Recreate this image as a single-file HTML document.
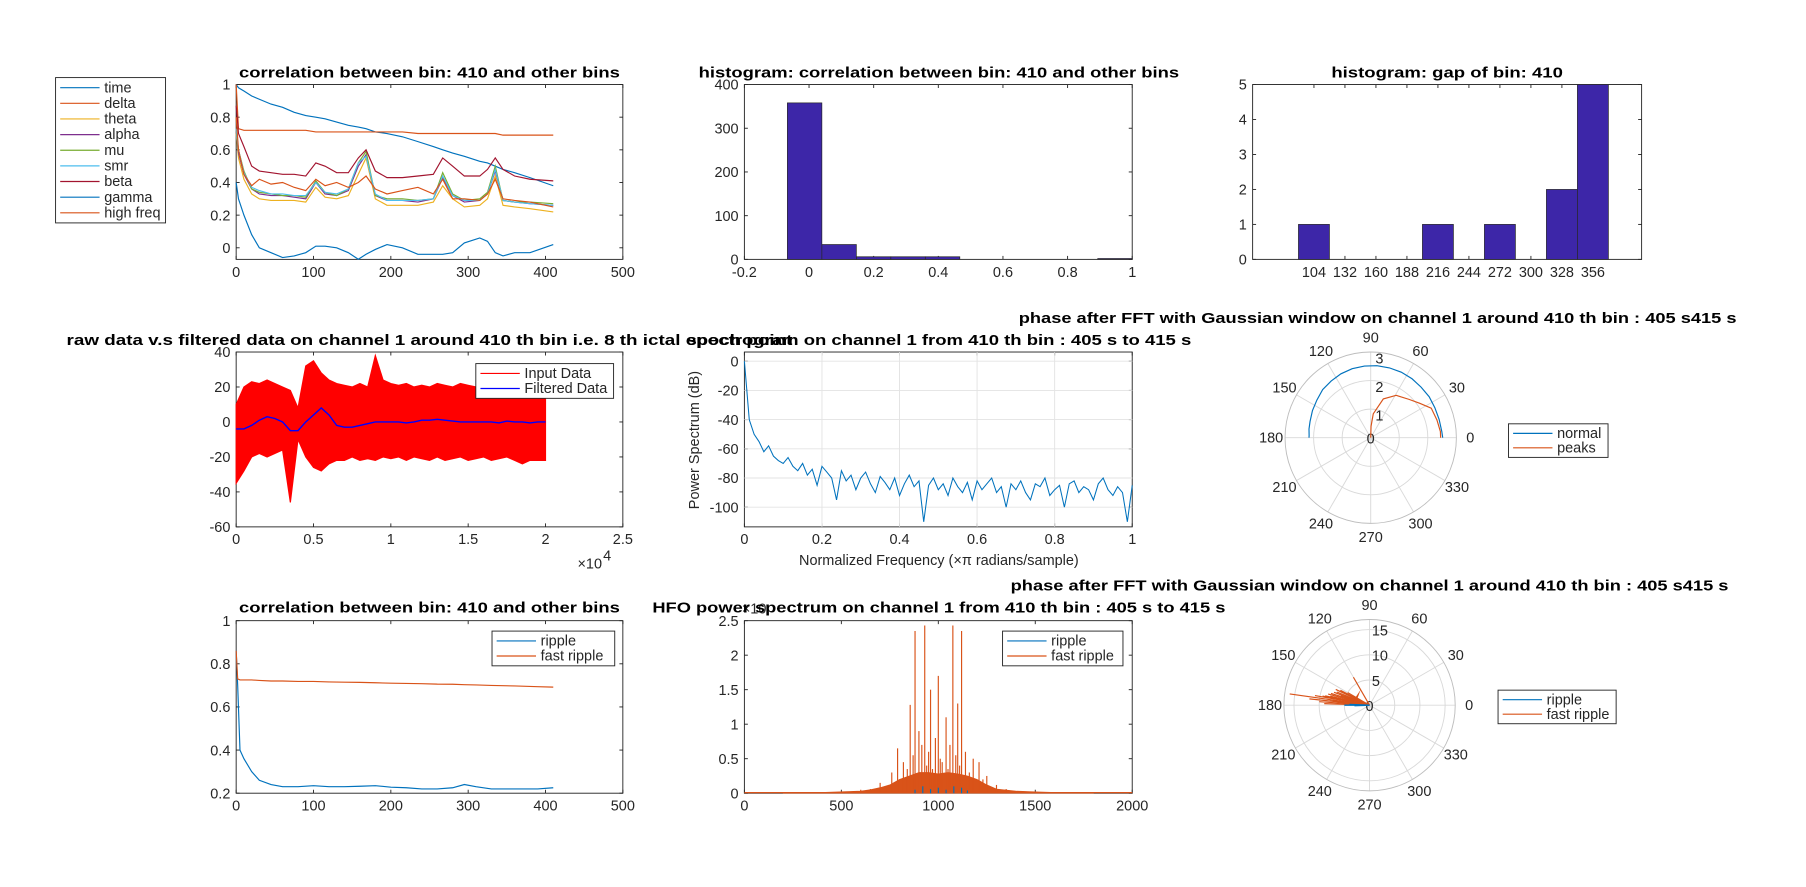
<!DOCTYPE html>
<html><head><meta charset="utf-8"><style>
html,body{margin:0;padding:0;background:#fff;}
svg{display:block;}
text{font-family:"Liberation Sans","DejaVu Sans",sans-serif;fill:#262626;}
.t{font-weight:bold;fill:#000;font-size:13px;}
.k{font-size:12.5px;}
</style></head><body>
<svg id="fig" width="1806" height="887" viewBox="0 0 1560 766" preserveAspectRatio="none" xmlns="http://www.w3.org/2000/svg"></svg>
<script>
// ---------- data ----------
const bandBins=[0,3,10,20,30,45,60,75,90,103,115,130,145,158,168,180,195,215,235,255,267,280,295,315,325,335,345,360,380,410];
const timeCorr=[1,0.98,0.96,0.93,0.91,0.88,0.86,0.83,0.81,0.80,0.79,0.77,0.75,0.74,0.73,0.71,0.70,0.68,0.65,0.62,0.60,0.58,0.56,0.53,0.52,0.50,0.48,0.46,0.43,0.38];
const deltaCorr=[1,0.73,0.72,0.72,0.72,0.72,0.72,0.72,0.72,0.71,0.71,0.71,0.71,0.71,0.71,0.71,0.71,0.71,0.70,0.70,0.70,0.70,0.70,0.70,0.70,0.70,0.69,0.69,0.69,0.69];
const thetaCorr=[0.7,0.55,0.42,0.33,0.30,0.29,0.29,0.29,0.28,0.37,0.31,0.30,0.32,0.45,0.55,0.30,0.26,0.26,0.26,0.28,0.38,0.30,0.25,0.26,0.30,0.44,0.26,0.25,0.24,0.22];
const alphaCorr=[0.72,0.58,0.45,0.36,0.33,0.32,0.32,0.31,0.30,0.40,0.33,0.32,0.35,0.50,0.57,0.32,0.29,0.29,0.28,0.30,0.43,0.32,0.28,0.29,0.33,0.47,0.29,0.28,0.27,0.26];
const muCorr=[0.72,0.60,0.47,0.36,0.34,0.33,0.32,0.32,0.31,0.41,0.34,0.32,0.36,0.52,0.59,0.32,0.30,0.30,0.29,0.30,0.46,0.33,0.29,0.30,0.34,0.50,0.29,0.28,0.28,0.27];
const smrCorr=[0.73,0.60,0.46,0.37,0.35,0.33,0.33,0.32,0.32,0.40,0.34,0.33,0.36,0.52,0.56,0.33,0.29,0.29,0.29,0.30,0.44,0.32,0.29,0.29,0.33,0.48,0.29,0.28,0.27,0.26];
const betaCorr=[0.87,0.70,0.62,0.50,0.47,0.46,0.45,0.45,0.44,0.52,0.50,0.46,0.46,0.55,0.60,0.47,0.43,0.43,0.44,0.45,0.55,0.50,0.44,0.44,0.48,0.55,0.48,0.44,0.42,0.41];
const gammaCorr=[0.4,0.3,0.2,0.08,0.0,-0.03,-0.06,-0.05,-0.03,0.01,0.01,0.0,-0.03,-0.07,-0.04,-0.01,0.02,0.0,-0.04,-0.04,-0.04,-0.03,0.03,0.06,0.04,-0.03,-0.05,-0.03,-0.03,0.02];
const highCorr=[0.8,0.6,0.45,0.38,0.42,0.39,0.40,0.37,0.35,0.42,0.38,0.40,0.37,0.40,0.44,0.36,0.33,0.35,0.37,0.33,0.42,0.30,0.30,0.29,0.33,0.42,0.30,0.29,0.28,0.25];
const bandNames=["time","delta","theta","alpha","mu","smr","beta","gamma","high freq"];
const histEdgesStart=-0.067, histBinWidth=0.1067;
const histCounts=[358,34,6,6,6,0,0,0,0,2];
const gapCenters=[104,132,160,188,216,244,272,300,328,356];
const gapCounts=[1,0,0,0,1,0,1,0,2,5];
const rawUpper=[10,20,23,22,24,22,20,18,8,32,35,28,24,22,21,20,22,20,38,24,22,21,22,20,21,20,22,21,20,22,21,20,22,20,22,21,20,22,21,20,22];
const rawLower=[-35,-28,-20,-18,-20,-18,-16,-46,-10,-20,-26,-28,-24,-22,-22,-20,-22,-21,-22,-20,-21,-20,-22,-20,-21,-22,-20,-22,-21,-20,-22,-21,-20,-22,-21,-20,-22,-24,-22,-22,-22];
const filtered=[-4,-4,-2,1,3,2,0,-5,-5,0,4,8,4,-2,-3,-3,-2,-1,0,0,0,0,-0.5,0,1,1,1.5,1,0.5,0,0,0,0,0,-0.5,0.5,0,0,-0.5,0,0];
const rawStep=500;
const spectrum=[0,-40,-50,-55,-62,-58,-65,-68,-70,-66,-72,-75,-70,-78,-74,-85,-72,-76,-80,-95,-75,-82,-78,-88,-80,-76,-84,-90,-79,-83,-88,-80,-92,-84,-78,-86,-82,-110,-85,-80,-88,-84,-92,-80,-86,-90,-83,-95,-82,-88,-84,-80,-90,-86,-100,-84,-88,-82,-90,-95,-84,-86,-80,-92,-88,-85,-100,-84,-82,-90,-86,-88,-95,-84,-80,-88,-92,-86,-90,-110,-85];
const normalAng=[0,5,15,25,35,45,55,65,75,85,95,105,115,125,135,145,155,165,172,178,180];
const normalR=[2.52,2.5,2.48,2.48,2.5,2.5,2.52,2.53,2.53,2.53,2.52,2.5,2.47,2.42,2.38,2.3,2.25,2.2,2.18,2.16,2.16];
const peakAng=[0,5,15,26,35,45,59,72,84,88,90];
const peakR=[2.45,2.45,2.4,2.36,2.1,1.9,1.73,1.43,0.84,0.4,0];
const rippleBins=[0,2,5,10,20,30,45,60,80,100,120,140,160,180,200,220,240,260,280,295,310,330,360,390,410];
const rippleCorr=[0.86,0.7,0.4,0.36,0.3,0.26,0.24,0.23,0.23,0.235,0.23,0.23,0.232,0.235,0.228,0.225,0.22,0.22,0.225,0.24,0.23,0.22,0.22,0.22,0.225];
const fastCorr=[0.86,0.73,0.725,0.725,0.725,0.723,0.72,0.72,0.718,0.718,0.716,0.715,0.714,0.712,0.71,0.709,0.708,0.706,0.705,0.703,0.702,0.7,0.697,0.694,0.692];
const hfoF=[880,930,1000,1075,1120,855,960,1040,1100,790,820,900,950,985,1010,1060,1090,1140,1180,1210,1250,1300,700,600,1400,760,840,870,915,940,970,1020,1050,1110,1160,1230,730,650,1350,1500,1750,250];
const hfoP=[2.35,2.43,1.7,2.43,2.35,1.28,1.5,1.1,1.3,0.65,0.45,0.9,0.6,0.8,0.5,0.7,0.55,0.6,0.5,0.45,0.25,0.12,0.15,0.05,0.03,0.3,0.35,0.55,0.7,0.4,0.35,0.45,0.35,0.4,0.3,0.2,0.1,0.06,0.06,0.02,0.01,0.01];
const hfoBaseF=[200,400,600,650,700,750,800,850,900,950,1000,1050,1100,1150,1200,1250,1300,1400,1500,1600,1800];
const hfoBaseP=[0.005,0.01,0.03,0.05,0.08,0.12,0.2,0.25,0.3,0.3,0.28,0.3,0.28,0.25,0.2,0.12,0.06,0.03,0.02,0.01,0.005];
const rippleF=[880,920,960,1000,1040,1080,1120,1150];
const rippleP=[0.05,0.1,0.06,0.08,0.05,0.1,0.08,0.04];
const fastAng=[172,176,170,168,165,163,160,158,155,153,174,178,167,162,120,150,169];
const fastR=[16,10,11,9,8.5,8,7.5,7,7.4,6.5,12,9,8,6,6.4,5,9.5];
const ripAng=[180,178,182];
const ripR=[5,4,3];
// ---------- helpers ----------
const C=['#0072BD','#D95319','#EDB120','#7E2F8E','#77AC30','#4DBEEE','#A2142F','#0072BD','#D95319'];
const svg=document.getElementById('fig');
const NS='http://www.w3.org/2000/svg';
function el(tag,attrs,parent){const e=document.createElementNS(NS,tag);for(const k in attrs)e.setAttribute(k,attrs[k]);(parent||svg).appendChild(e);return e;}
function txt(s,x,y,cls,anchor,extra){const t=el('text',Object.assign({x:x,y:y,'text-anchor':anchor||'middle',class:cls||'k'},extra||{}));t.textContent=s;return t;}
function axes(name,L,R,T,B,xmin,xmax,ymin,ymax,xt,yt,xfmt,yfmt){
  const g=el('g',{});
  
  
  const sx=v=>L+(v-xmin)/(xmax-xmin)*(R-L);
  const sy=v=>B-(v-ymin)/(ymax-ymin)*(B-T);
  const box=el('rect',{x:L,y:T,width:R-L,height:B-T,fill:'#fff',stroke:'#262626','stroke-width':0.8},g);
  
  
  xt.forEach(v=>{const x=sx(v);el('line',{x1:x,x2:x,y1:B,y2:B-3,stroke:'#262626','stroke-width':0.8},g);el('line',{x1:x,x2:x,y1:T,y2:T+3,stroke:'#262626','stroke-width':0.8},g);
    const t=txt(xfmt?xfmt(v):String(v),x,B+15);
    
    });
  yt.forEach(v=>{const y=sy(v);el('line',{x1:L,x2:L+3,y1:y,y2:y,stroke:'#262626','stroke-width':0.8},g);el('line',{x1:R,x2:R-3,y1:y,y2:y,stroke:'#262626','stroke-width':0.8},g);
    const t=txt(yfmt?yfmt(v):String(v),L-5,y+4.5,'k','end');
    
    });
  return {sx,sy,g};
}
function line(ax,xs,ys,color,w){const d=xs.map((x,i)=>(i?'L':'M')+ax.sx(x).toFixed(1)+' '+ax.sy(ys[i]).toFixed(1)).join('');return el('path',{d:d,fill:'none',stroke:color,'stroke-width':w||1});}
function legend(name,x,y,w,items,rowH){
  const g=el('g',{});
  
  
  el('rect',{x:x,y:y,width:w,height:items.length*rowH+4,fill:'#fff',stroke:'#262626','stroke-width':0.8},g);
  items.forEach((it,i)=>{const yy=y+2+rowH*(i+0.5);el('line',{x1:x+4,x2:x+38,y1:yy,y2:yy,stroke:it[1],'stroke-width':1},g);
    const t=txt(it[0],x+42,yy+4,'k','start');g.appendChild(t);
    
    });
}
function title(s,cx,y,w){const t=txt(s,cx,y,'t','middle',w?{textLength:w,lengthAdjust:'spacingAndGlyphs'}:{});return t;}
function polar(name,cx,cy,R,rmax,rings){
  const g=el('g',{});
  
  
  for(let a=0;a<360;a+=30){const r=a*Math.PI/180;el('line',{x1:cx,y1:cy,x2:cx+R*Math.cos(r),y2:cy-R*Math.sin(r),stroke:'#d9d9d9','stroke-width':0.8},g);
    const t=txt(String(a),cx+(R+12)*Math.cos(r),cy-(R+12)*Math.sin(r)+4);
    
    }
  rings.forEach(v=>el('circle',{cx:cx,cy:cy,r:v/rmax*R,fill:'none',stroke:'#d9d9d9','stroke-width':0.8},g));
  el('circle',{cx:cx,cy:cy,r:R,fill:'none',stroke:'#bdbdbd','stroke-width':0.8},g);
  const s=(a,r)=>[cx+r/rmax*R*Math.cos(a*Math.PI/180),cy-r/rmax*R*Math.sin(a*Math.PI/180)];
  return s;
}
// ---------- plot 1 ----------
const a1=axes('band-correlation-axes',204,538,73,224,0,500,-0.071,1,[0,100,200,300,400,500],[0,0.2,0.4,0.6,0.8,1]);
[timeCorr,deltaCorr,thetaCorr,alphaCorr,muCorr,smrCorr,betaCorr,gammaCorr,highCorr].forEach((s,i)=>{
  const p=line(a1,bandBins,s,C[i],1);
  
  
});
title('correlation between bin: 410 and other bins',371,67,329);
legend('band-legend',48,67,95,bandNames.map((n,i)=>[n,C[i]]),13.5);
// ---------- plot 2 ----------
const a2=axes('correlation-histogram-axes',643,978,73,224,-0.2,1,0,400,[-0.2,0,0.2,0.4,0.6,0.8,1],[0,100,200,300,400]);
histCounts.forEach((c,i)=>{const x0=a2.sx(histEdgesStart+i*histBinWidth),x1=a2.sx(histEdgesStart+(i+1)*histBinWidth);
  const r=el('rect',{x:x0,y:a2.sy(c),width:x1-x0,height:a2.sy(0)-a2.sy(c),fill:'#3D26A8',stroke:'#262626','stroke-width':0.6});
  
  });
title('histogram: correlation between bin: 410 and other bins',811,67,415);
// ---------- plot 3 ----------
const a3=axes('gap-histogram-axes',1082,1418,73,224,48.6,400,0,5,gapCenters,[0,1,2,3,4,5]);
gapCounts.forEach((c,i)=>{if(!c)return;const x0=a3.sx(gapCenters[i]-14),x1=a3.sx(gapCenters[i]+14);
  const r=el('rect',{x:x0,y:a3.sy(c),width:x1-x0,height:a3.sy(0)-a3.sy(c),fill:'#3D26A8',stroke:'#262626','stroke-width':0.6});
  
  });
title('histogram: gap of bin: 410',1250,67,200);
// ---------- plot 4 ----------
const a4=axes('raw-filtered-axes',204,538,304,455,0,25000,-60,40,[0,5000,10000,15000,20000,25000],[-60,-40,-20,0,20,40],v=>String(v/10000));
{const xs=rawUpper.map((_,i)=>i*rawStep);
 let d='M'+xs.map((x,i)=>a4.sx(x).toFixed(1)+' '+a4.sy(rawUpper[i]).toFixed(1)).join('L');
 d+='L'+xs.slice().reverse().map((x,j)=>{const i=xs.length-1-j;return a4.sx(x).toFixed(1)+' '+a4.sy(rawLower[i]).toFixed(1);}).join('L')+'Z';
 const p=el('path',{d:d,fill:'#ff0000',stroke:'#ff0000','stroke-width':1});
 
 
 const f=line(a4,xs,filtered,'#0000ff',1.2);
 
 }
txt('×10',520,491,'k','end');txt('4',521,484,'k','start',{'font-size':'8px'});
legend('raw-legend',411,314,119,[['Input Data','#ff0000'],['Filtered Data','#0000ff']],13);
// ---------- plot 5 ----------
const a5=axes('spectrum-axes',643,978,304,455,0,1,-113.5,6.3,[0,0.2,0.4,0.6,0.8,1],[-100,-80,-60,-40,-20,0]);
[0.2,0.4,0.6,0.8].forEach(v=>el('line',{x1:a5.sx(v),x2:a5.sx(v),y1:304,y2:455,stroke:'#e3e3e3','stroke-width':0.8}));
[-100,-80,-60,-40,-20,0].forEach(v=>el('line',{x1:643,x2:978,y1:a5.sy(v),y2:a5.sy(v),stroke:'#e3e3e3','stroke-width':0.8}));
{const xs=spectrum.map((_,i)=>i/(spectrum.length-1));const p=line(a5,xs,spectrum,'#0072BD',0.9);
 
 }
const yl=txt('Power Spectrum (dB)',604,380,'k','middle',{transform:'rotate(-90 604 380)','font-size':'12.5px'});


const xl=txt('Normalized Frequency (×π radians/sample)',811,488,'k','middle',{'font-size':'12.5px'});


title('raw data v.s filtered data on channel 1 around 410 th bin i.e. 8 th ictal epoch point',371,298,627);
title('spectrogram on channel 1 from 410 th bin : 405 s to 415 s',811,298,436);
// ---------- polar 1 ----------
title('phase after FFT with Gaussian window on channel 1 around 410 th bin : 405 s415 s',1190,279,620);
const p1=polar('phase-polar-1',1184,378,74,3,[1,2]);
[['1',1],['2',2],['3',3]].forEach(([s,v])=>txt(s,1184+4,378-v/3*74+10,'k','start'));
txt('0',1184,383);
{let d=normalAng.map((a,i)=>{const q=p1(a,normalR[i]);return (i?'L':'M')+q[0].toFixed(1)+' '+q[1].toFixed(1);}).join('');
 const n=el('path',{d:d,fill:'none',stroke:'#0072BD','stroke-width':1});
 
 
 d=peakAng.map((a,i)=>{const q=p1(a,peakR[i]);return (i?'L':'M')+q[0].toFixed(1)+' '+q[1].toFixed(1);}).join('');
 const pk=el('path',{d:d,fill:'none',stroke:'#D95319','stroke-width':1});
 
 }
legend('phase-legend-1',1303,366,86,[['normal','#0072BD'],['peaks','#D95319']],12.5);
// ---------- plot 7 ----------
const a7=axes('ripple-correlation-axes',204,538,536,685,0,500,0.2,1,[0,100,200,300,400,500],[0.2,0.4,0.6,0.8,1]);
{const r=line(a7,rippleBins,rippleCorr,'#0072BD',1);
 const f=line(a7,rippleBins,fastCorr,'#D95319',1);}
legend('ripple-corr-legend',425,545,106,[['ripple','#0072BD'],['fast ripple','#D95319']],13);
title('correlation between bin: 410 and other bins',371,529,329);
// ---------- plot 8 ----------
const a8=axes('hfo-spectrum-axes',643,978,536,685,0,2000,0,2.5,[0,500,1000,1500,2000],[0,0.5,1,1.5,2,2.5]);
{let d='M'+a8.sx(hfoBaseF[0])+' '+a8.sy(0)+hfoBaseF.map((f,i)=>'L'+a8.sx(f).toFixed(1)+' '+a8.sy(hfoBaseP[i]).toFixed(1)).join('')+'L'+a8.sx(hfoBaseF[hfoBaseF.length-1])+' '+a8.sy(0)+'Z';
 const b=el('path',{d:d,fill:'#D95319',stroke:'#D95319','stroke-width':0.6});
 
 
 hfoF.forEach((f,i)=>{const l=el('line',{x1:a8.sx(f),x2:a8.sx(f),y1:a8.sy(0),y2:a8.sy(hfoP[i]),stroke:'#D95319','stroke-width':1});
   
   });
 el('line',{x1:a8.sx(0),x2:a8.sx(2000),y1:a8.sy(0)-0.5,y2:a8.sy(0)-0.5,stroke:'#D95319','stroke-width':1});
 rippleF.forEach((f,i)=>{const l=el('line',{x1:a8.sx(f),x2:a8.sx(f),y1:a8.sy(0),y2:a8.sy(rippleP[i]),stroke:'#0072BD','stroke-width':1});
   
   });}
legend('hfo-legend',866,545,104,[['ripple','#0072BD'],['fast ripple','#D95319']],13);
txt('×10',662,530,'k','end');
title('HFO power spectrum on channel 1 from 410 th bin : 405 s to 415 s',811,529,495);
// ---------- polar 2 ----------
title('phase after FFT with Gaussian window on channel 1 around 410 th bin : 405 s415 s',1183,510,620);
const p2=polar('phase-polar-2',1183,609,74,17,[5,10,15]);
[['5',5],['10',10],['15',15]].forEach(([s,v])=>txt(s,1183+2,609-v/17*74+5,'k','start'));
txt('0',1183,614);
fastAng.forEach((a,i)=>{const q=p2(a,fastR[i]);const l=el('line',{x1:1183,y1:609,x2:q[0],y2:q[1],stroke:'#D95319','stroke-width':1});
  
  });
el('path',{d:(()=>{let d='M1183 609';fastAng.forEach((a,i)=>{const q=p2(a,fastR[i]*0.55);d+='L'+q[0].toFixed(1)+' '+q[1].toFixed(1);});return d+'Z';})(),fill:'#D95319',stroke:'none'});
ripAng.forEach((a,i)=>{const q=p2(a,ripR[i]);const l=el('line',{x1:1183,y1:609,x2:q[0],y2:q[1],stroke:'#0072BD','stroke-width':1.2});
  
  });
legend('phase-legend-2',1294,596,102,[['ripple','#0072BD'],['fast ripple','#D95319']],12.5);
</script>
</body></html>
